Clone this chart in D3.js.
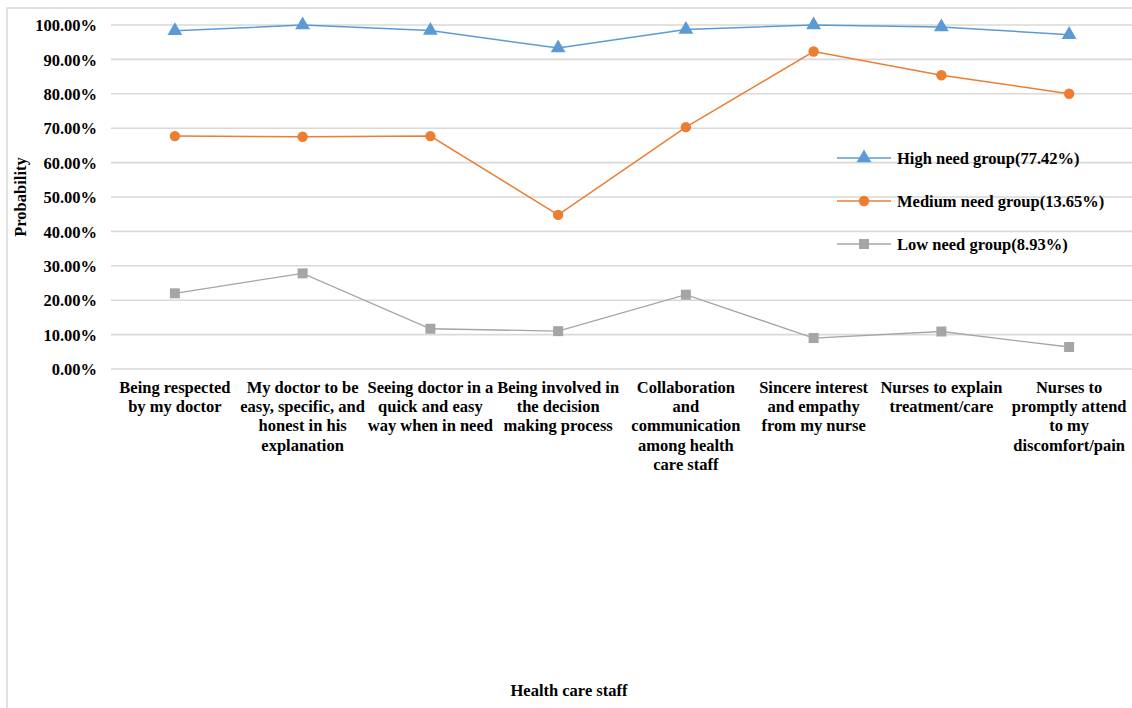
<!DOCTYPE html>
<html>
<head>
<meta charset="utf-8">
<script src="https://cdn.jsdelivr.net/npm/d3@7"></script>
<style>
  html, body { margin: 0; padding: 0; background: #fff; }
  svg { display: block; }
  text { font-family: "Liberation Serif", "Times New Roman", serif; font-weight: bold; fill: #000; }
</style>
</head>
<body>
<svg id="chart" width="1132" height="708"></svg>
<script>
// Care-need categories (x axis), one line per latent group
const categories = [
  ["Being respected", "by my doctor"],
  ["My doctor to be", "easy, specific, and", "honest in his", "explanation"],
  ["Seeing doctor in a", "quick and easy", "way when in need"],
  ["Being involved in", "the decision", "making process"],
  ["Collaboration", "and", "communication", "among health", "care staff"],
  ["Sincere interest", "and empathy", "from my nurse"],
  ["Nurses to explain", "treatment/care"],
  ["Nurses to", "promptly attend", "to my", "discomfort/pain"]
];

const highNeed   = [98.3, 100.0, 98.4, 93.3, 98.7, 100.0, 99.4, 97.2];
const mediumNeed = [67.7, 67.5, 67.7, 44.8, 70.3, 92.3, 85.4, 80.0];
const lowNeed    = [22.0, 27.8, 11.7, 11.0, 21.6, 9.0, 10.9, 6.4];

const seriesNames = ["High need group(77.42%)", "Medium need group(13.65%)", "Low need group(8.93%)"];
const yTicks = [0, 10, 20, 30, 40, 50, 60, 70, 80, 90, 100];

const FONT = "16.5px";
const svg = d3.select("#chart");
const W = 1132, H = 708;
const plot = { left: 111, right: 1133, top: 25, bottom: 369 };

// outer chart frame
svg.append("rect")
  .attr("x", 7).attr("y", 8)
  .attr("width", W + 20).attr("height", H + 20)
  .attr("fill", "none").attr("stroke", "#d9d9d9").attr("stroke-width", 1.5);

const x = d3.scaleBand()
  .domain(d3.range(categories.length))
  .range([plot.left, plot.right]);

const y = d3.scaleLinear().domain([0, 100]).range([plot.bottom, plot.top]);

// horizontal gridlines
svg.append("g")
  .selectAll("line")
  .data(yTicks)
  .join("line")
  .attr("x1", plot.left).attr("x2", plot.right)
  .attr("y1", d => y(d)).attr("y2", d => y(d))
  .attr("stroke", "#d9d9d9").attr("stroke-width", 1.6);

// y axis tick labels
const yAxis = d3.axisLeft(y).tickValues(yTicks)
  .tickFormat(d => d.toFixed(2) + "%").tickSize(0).tickPadding(0);
const yg = svg.append("g").attr("transform", `translate(97,0)`).call(yAxis);
yg.select(".domain").remove();
yg.selectAll("text")
  .style("font-family", "Liberation Serif, serif")
  .style("font-weight", "bold")
  .style("font-size", FONT)
  .attr("dy", "0.35em")
  .attr("fill", "#000");

// x axis category labels (multi-line)
const xLabels = svg.append("g")
  .selectAll("text")
  .data(categories)
  .join("text")
  .attr("text-anchor", "middle")
  .attr("font-size", FONT)
  .attr("transform", (d, i) => `translate(${x(i) + x.bandwidth() / 2},393)`);
xLabels.selectAll("tspan")
  .data(d => d)
  .join("tspan")
  .attr("x", 0)
  .attr("y", (d, i) => i * 19.2)
  .text(d => d);

// axis titles
svg.append("text")
  .attr("transform", "translate(26,197) rotate(-90)")
  .attr("text-anchor", "middle")
  .attr("font-size", FONT)
  .text("Probability");

svg.append("text")
  .attr("x", 569).attr("y", 696)
  .attr("text-anchor", "middle")
  .attr("font-size", FONT)
  .text("Health care staff");

const colors = ["#5b9bd5", "#ed7d31", "#a5a5a5"];
const allSeries = [highNeed, mediumNeed, lowNeed];
const cx = i => x(i) + x.bandwidth() / 2;

const line = d3.line().x((d, i) => cx(i)).y(d => y(d));

const symbols = [d3.symbolTriangle, d3.symbolCircle, d3.symbolSquare];
const symbolSizes = [95, 85, 100];

allSeries.forEach((vals, s) => {
  svg.append("path")
    .datum(vals)
    .attr("d", line)
    .attr("fill", "none")
    .attr("stroke", colors[s])
    .attr("stroke-width", s === 2 ? 1.3 : 1.5);

  svg.append("g")
    .selectAll("path")
    .data(vals)
    .join("path")
    .attr("transform", (d, i) => `translate(${cx(i)},${y(d)})`)
    .attr("d", d3.symbol().type(symbols[s]).size(symbolSizes[s]))
    .attr("fill", colors[s]);
});

// legend
const legendY = [158, 201, 244];
const legend = svg.append("g");
seriesNames.forEach((name, s) => {
  const g = legend.append("g").attr("transform", `translate(837,${legendY[s]})`);
  g.append("line").attr("x1", 0).attr("x2", 54).attr("y1", 0).attr("y2", 0)
    .attr("stroke", colors[s]).attr("stroke-width", 1.5);
  g.append("path").attr("transform", "translate(27,0)")
    .attr("d", d3.symbol().type(symbols[s]).size(symbolSizes[s]))
    .attr("fill", colors[s]);
  g.append("text").attr("x", 60).attr("y", 0).attr("dy", "0.35em")
    .attr("font-size", FONT).text(name);
});
</script>
</body>
</html>
